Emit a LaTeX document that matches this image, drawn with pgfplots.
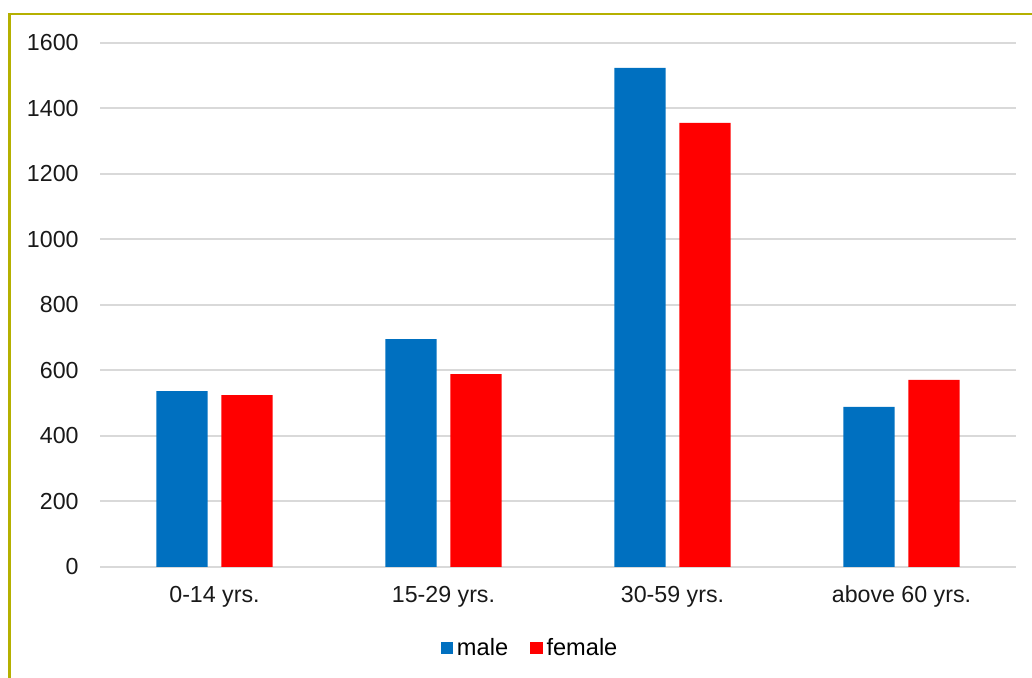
\documentclass[border=0pt]{standalone}
\usepackage{pgfplots}
\pgfplotsset{compat=1.18}
\usepackage{fontspec}
\setmainfont{Liberation Sans}
\definecolor{maleblue}{HTML}{0070C0}
\definecolor{femred}{HTML}{FF0000}
\definecolor{framecol}{HTML}{B5B000}
\definecolor{gridgray}{HTML}{D9D9D9}
\begin{document}
\begin{tikzpicture}
\path[use as bounding box] (0,0) rectangle (516pt,339pt);
% chart frame (open towards right and bottom)
\draw[framecol, line width=1.4pt] (4.85pt,-10pt) -- (4.85pt,332pt) -- (530pt,332pt);
\begin{axis}[
  at={(50pt,55.5pt)}, anchor=south west,
  scale only axis, width=458pt, height=262pt,
  xmin=-0.5, xmax=3.5, ymin=0, ymax=1600,
  ytick={0,200,...,1600},
  xtick={0,1,2,3},
  xticklabels={0-14 yrs.,15-29 yrs.,30-59 yrs.,above 60 yrs.},
  axis line style={draw=none},
  major tick length=0pt, tick style={draw=none},
  ymajorgrids, grid style={gridgray, line width=1pt},
  /pgf/number format/assume math mode=true,
  /pgf/number format/1000 sep={},
  ticklabel style={font=\fontsize{11.6}{13}\selectfont, text=black!90},
  yticklabel style={inner sep=0pt, xshift=-10.5pt},
  xticklabel style={inner sep=0pt, anchor=base, yshift=-18pt},
  legend columns=-1,
  legend style={at={(0.4705,-0.1545)}, anchor=center, draw=none,
    font=\fontsize{11.8}{13}\selectfont, inner sep=0pt,
    /tikz/every even column/.append style={column sep=9pt}},
  legend image code/.code={\fill[#1] (0pt,-3.1pt) rectangle (6.2pt,3.1pt);},
]
\addplot[ybar, bar width=0.223, bar shift=-0.142, fill=maleblue, draw=none]
  coordinates {(0,537) (1,696) (2,1524) (3,489)};
\addlegendentry{male}
\addplot[ybar, bar width=0.223, bar shift=0.142, fill=femred, draw=none]
  coordinates {(0,525) (1,589) (2,1356) (3,571)};
\addlegendentry{female}
\end{axis}
\end{tikzpicture}
\end{document}
